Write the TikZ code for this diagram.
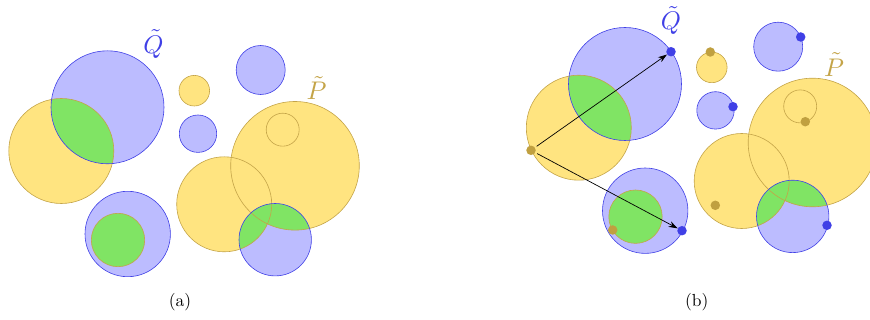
\documentclass[tikz,border=0pt]{standalone}
\usepackage{graphicx}
\usetikzlibrary{arrows.meta}
\definecolor{bfill}{RGB}{188,188,255}
\definecolor{bline}{RGB}{64,64,230}
\definecolor{yfill}{RGB}{255,228,128}
\definecolor{yline}{RGB}{196,164,72}
\definecolor{gfill}{RGB}{128,228,100}
\definecolor{ydot}{RGB}{192,160,64}
\definecolor{bdot}{RGB}{64,64,230}
\newcommand{\biglab}[1]{\scalebox{2.55}{$#1$}}
\newcommand{\capt}[1]{\scalebox{1.75}{#1}}
\tikzset{
  yc/.style={draw=yline,line width=0.6pt},
  bc/.style={draw=bline,line width=0.6pt},
  lab/.style={inner sep=0pt},
  captxt/.style={inner sep=0pt},
  ypt/.style={circle,fill=ydot,inner sep=0pt,minimum size=9.5pt},
  bpt/.style={circle,fill=bdot,inner sep=0pt,minimum size=9.5pt},
  arr/.style={-{Stealth[length=9pt,width=6pt]},line width=0.7pt,black,shorten <=2pt}
}
\newcommand{\circscene}[1]{%
  \fill[yfill] (61.3,151) circle[radius=52.5pt];
  \fill[yfill] (194.3,90.7) circle[radius=15.3pt];
  \fill[yfill] (295,165.8) circle[radius=64.3pt];
  \fill[yfill] (224.2,204.3) circle[radius=47.5pt];
  \fill[bfill] (107.5,107.3) circle[radius=56.5pt];
  \fill[bfill] (198,133.7) circle[radius=18.7pt];
  \fill[bfill] (260.7,70) circle[radius=24.5pt];
  \fill[bfill] (275.2,239.7) circle[radius=36.2pt];
  \fill[bfill] (127.7,234) circle[radius=42.7pt];
  \begin{scope}
    \clip (107.5,107.3) circle[radius=56.5pt];
    \fill[gfill] (61.3,151) circle[radius=52.5pt];
  \end{scope}
  \begin{scope}
    \clip (275.2,239.7) circle[radius=36.2pt];
    \fill[gfill] (295,165.8) circle[radius=64.3pt];
    \fill[gfill] (224.2,204.3) circle[radius=47.5pt];
  \end{scope}
  \fill[gfill] (118,240) circle[radius=26.7pt];
  \draw[yc] (61.3,151) circle[radius=52.5pt];
  \draw[yc] (194.3,90.7) circle[radius=15.3pt];
  \draw[yc] (295,165.8) circle[radius=64.3pt];
  \draw[yc] (282.7,129.7) circle[radius=16.5pt];
  \draw[yc] (224.2,204.3) circle[radius=47.5pt];
  \draw[yc] (118,240) circle[radius=26.7pt];
  \draw[bc] (107.5,107.3) circle[radius=56.5pt];
  \draw[bc] (198,133.7) circle[radius=18.7pt];
  \draw[bc] (260.7,70) circle[radius=24.5pt];
  \draw[bc] (275.2,239.7) circle[radius=36.2pt];
  \draw[bc] (127.7,234) circle[radius=42.7pt];
  \node[lab,text=bline] (Q#1) at (153.5,44) {\biglab{\tilde{Q}}};
  \node[lab,text=yline] (P#1) at (316.5,88) {\biglab{\tilde{P}}};
}
\begin{document}
\begin{tikzpicture}[x=1pt,y=-1pt]
\useasboundingbox (0,0) rectangle (870,320);
\clip (0,0) rectangle (870,320);
% panel (a)
\circscene{a}
\node[captxt] (capa) at (180,302) {\capt{(a)}};
% panel (b)
\begin{scope}[shift={(517.5,-23.3)}]
  \circscene{b}
  \node[ypt] (y0) at (13.5,173.6) {};
  \node[bpt] (b1) at (153.5,75) {};
  \node[bpt] (b2) at (164.5,254) {};
  \node[ypt] (y1) at (192.8,75.3) {};
  \node[bpt] (b3) at (215.5,130) {};
  \node[bpt] (b4) at (283.2,60.3) {};
  \node[ypt] (y2) at (287.8,145) {};
  \node[ypt] (y3) at (197.8,228.6) {};
  \node[ypt] (y4) at (95.2,253.3) {};
  \node[bpt] (b5) at (309.5,248.6) {};
  \draw[arr] (y0) -- (b1);
  \draw[arr] (y0) -- (b2);
\end{scope}
\node[captxt] (capb) at (696.7,302) {\capt{(b)}};
\end{tikzpicture}
\end{document}
